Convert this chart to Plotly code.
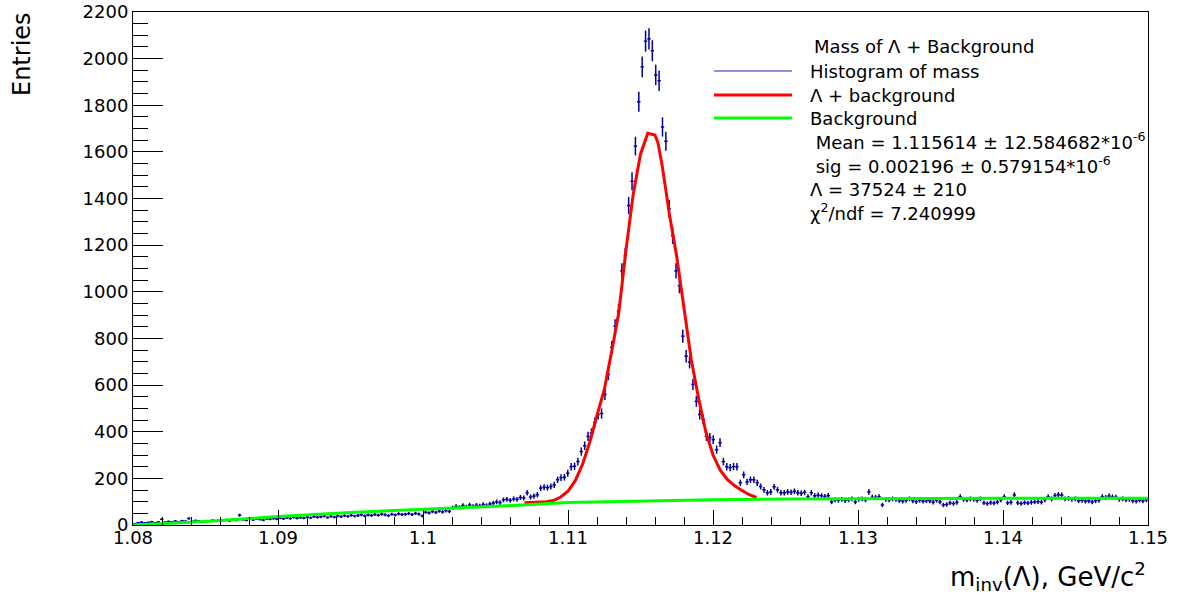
import numpy as np
import plotly.graph_objects as go

# ---------------- data ----------------
mass_low = 1.08
mass_high = 1.15
n_bins = 300

counts = [
    6, 10, 12, 9, 11, 14, 10, 13, 25, 12,
    15, 13, 17, 14, 18, 16, 28, 15, 19, 17,
    14, 18, 16, 20, 17, 21, 19, 22, 18, 24,
    21, 42, 23, 20, 25, 22, 26, 24, 21, 27,
    25, 28, 26, 30, 27, 31, 28, 33, 29, 32,
    30, 34, 31, 36, 33, 35, 38, 32, 37, 34,
    39, 36, 40, 37, 42, 38, 41, 44, 39, 43,
    41, 45, 42, 47, 44, 40, 46, 43, 48, 45,
    46, 49, 45, 50, 47, 39, 55, 52, 58, 54,
    60, 56, 62, 58, 74, 80, 76, 84, 78, 86,
    80, 85, 82, 88, 84, 90, 94, 99, 96, 108,
    110, 106, 112, 110, 118, 116, 138, 120, 124, 130,
    158, 162, 160, 165, 172, 194, 203, 205,
    222, 250, 252, 272, 315, 340, 380, 395, 440, 474,
    478, 560, 646, 762, 853, 918, 1090, 1155, 1370, 1474,
    1625, 1815, 1965, 2075, 2085, 2034, 1930, 1905, 1707, 1646,
    1357, 1241, 1090, 1026, 810, 724, 698, 603, 530, 474,
    453, 380, 375, 366, 323, 353, 272, 250, 246, 250,
    250, 181, 215, 185, 194, 194, 181,
    165, 151, 138, 142, 164, 151, 138, 138, 142, 140,
    145, 138, 136, 140, 121, 138, 125, 128, 125, 122,
    126, 99, 108, 106, 110, 105, 108, 112, 99, 110,
    112, 108, 142, 119, 118, 121, 86, 110, 108, 112,
    110, 104, 102, 106, 112, 104, 100, 106, 102, 104,
    104, 98, 106, 99, 86, 88, 95, 92, 97, 121,
    110, 108, 112, 110, 106, 112, 95, 92, 96, 94,
    98, 108, 121, 95, 97, 129, 95, 92, 96, 94,
    97, 99, 100, 98, 108, 121, 112, 126, 130, 128,
    112, 114, 110, 112, 104, 106, 102, 104, 99, 104,
    106, 121, 118, 124, 120, 119, 110, 112, 108, 110,
    104, 102, 106, 104, 108,
]

fit_mass = [1.1070, 1.1075, 1.1080, 1.1085, 1.1090, 1.1095, 1.1100, 1.1105,
            1.1110, 1.1115, 1.1120, 1.1125, 1.1130, 1.1135, 1.1140, 1.1145,
            1.1150, 1.1153, 1.1155, 1.1160, 1.1162, 1.1165, 1.1170, 1.1175,
            1.1180, 1.1185, 1.1190, 1.1195, 1.1200, 1.1205, 1.1210, 1.1215,
            1.1220, 1.1225, 1.1230]
fit_value = [95, 96, 98, 100, 105, 120, 145, 190,
             260, 355, 470, 580, 740, 910, 1180, 1420,
             1590, 1650, 1680, 1672, 1640, 1540, 1330, 1150,
             920, 710, 545, 400, 300, 235, 194, 168,
             148, 130, 118]

bg_mass = [1.080, 1.0825, 1.085, 1.090, 1.095, 1.100, 1.105, 1.110,
           1.115, 1.120, 1.125, 1.130, 1.140, 1.150]
bg_value = [0, 8, 15, 36, 54, 68, 80, 96, 103, 108, 112, 114, 115, 115]

x_tick_vals = [1.08, 1.09, 1.10, 1.11, 1.12, 1.13, 1.14, 1.15]
x_tick_text = ["1.08", "1.09", "1.1", "1.11", "1.12", "1.13", "1.14", "1.15"]

legend_header = "Mass of \u039b + Background"
legend_entries = ["Histogram of mass", "\u039b + background", "Background"]
legend_stats = [
    " Mean = 1.115614 \u00b1 12.584682*10<sup>-6</sup>",
    " sig = 0.002196 \u00b1 0.579154*10<sup>-6</sup>",
    "\u039b = 37524 \u00b1 210",
    "\u03c7<sup>2</sup>/ndf = 7.240999",
]

# ---------------- figure ----------------
edges = np.linspace(mass_low, mass_high, n_bins + 1)
centers = 0.5 * (edges[:-1] + edges[1:])
bin_w = edges[1] - edges[0]
cnt = np.array(counts, dtype=float)

FONT = "DejaVu Sans"
DATA_C = "#000099"

fig = go.Figure()
fig.add_trace(go.Scatter(
    x=centers, y=cnt, mode="markers",
    marker=dict(size=1, color=DATA_C),
    error_y=dict(type="data", array=np.sqrt(cnt), color=DATA_C, thickness=1.5, width=0),
    error_x=dict(type="constant", value=bin_w / 2, color=DATA_C, thickness=1.5, width=0),
    hoverinfo="skip",
))
fig.add_trace(go.Scatter(x=fit_mass, y=fit_value, mode="lines",
                         line=dict(color="#ff0000", width=3)))
fig.add_trace(go.Scatter(x=bg_mass, y=bg_value, mode="lines",
                         line=dict(color="#00ff00", width=3)))

L, R, T, B = 133, 32, 12, 75
W, H = 1180, 600
PW, PH = W - L - R, H - T - B


def px(xp):
    return (xp - L) / PW


def py(yp):
    return (H - B - yp) / PH


# legend lines
leg_rows_y = [71, 95, 118]
leg_cols = ["#2222cc", "#ff0000", "#00ff00"]
leg_w = [1.2, 3, 3]
for yy, cc, ww in zip(leg_rows_y, leg_cols, leg_w):
    fig.add_shape(type="line", xref="paper", yref="paper",
                  x0=px(714), x1=px(792), y0=py(yy), y1=py(yy),
                  line=dict(color=cc, width=ww))

ann = []
ann.append(dict(text=legend_header, x=px(812), y=py(46)))
for t, yy in zip(legend_entries, leg_rows_y):
    ann.append(dict(text=t, x=px(808), y=py(yy)))
for t, yy in zip(legend_stats, [141, 165, 189, 212]):
    ann.append(dict(text=t, x=px(808), y=py(yy)))
for a in ann:
    fig.add_annotation(xref="paper", yref="paper", xanchor="left", yanchor="middle",
                       showarrow=False, font=dict(family=FONT, size=18, color="black"), **a)

# axis titles
fig.add_annotation(text="Entries", xref="paper", yref="paper", x=px(22), y=py(10),
                   xanchor="center", yanchor="top", textangle=-90, showarrow=False,
                   font=dict(family=FONT, size=24, color="black"))
fig.add_annotation(text="m<sub>inv</sub>(\u039b), GeV/c<sup>2</sup>", xref="paper", yref="paper",
                   x=px(1148), y=py(576), xanchor="right", yanchor="middle", showarrow=False,
                   font=dict(family=FONT, size=26, color="black"))

axis_common = dict(showline=True, linecolor="black", linewidth=1, mirror=True,
                   ticks="inside", tickcolor="black", tickwidth=1, showgrid=False,
                   zeroline=False, automargin=False,
                   tickfont=dict(family=FONT, size=18, color="black"))
fig.update_xaxes(range=[mass_low, mass_high], tickvals=x_tick_vals, ticktext=x_tick_text,
                 ticklen=15, ticklabelstandoff=-4,
                 minor=dict(ticks="inside", ticklen=8, dtick=0.002, tick0=mass_low,
                            tickcolor="black", tickwidth=1, showgrid=False),
                 **axis_common)
fig.update_yaxes(range=[0, 2200], dtick=200, tick0=0, ticklen=30,
                 minor=dict(ticks="inside", ticklen=15, dtick=50, tick0=0,
                            tickcolor="black", tickwidth=1, showgrid=False),
                 **axis_common)

fig.update_layout(width=W, height=H, margin=dict(l=L, r=R, t=T, b=B, autoexpand=False),
                  paper_bgcolor="white", plot_bgcolor="white", showlegend=False,
                  font=dict(family=FONT, color="black"))

fig.write_html("out.html")
